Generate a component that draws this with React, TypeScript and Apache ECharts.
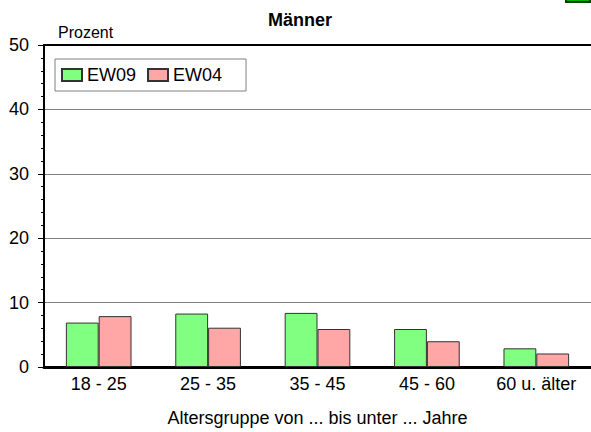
import React, { useEffect, useRef } from "react";
import * as echarts from "echarts";

const categories = ["18 - 25", "25 - 35", "35 - 45", "45 - 60", "60 u. älter"];
const ew09 = [6.9, 8.3, 8.4, 5.9, 2.9];
const ew04 = [7.9, 6.1, 5.9, 4.0, 2.1];
const seriesNames = ["EW09", "EW04"];

const FONT = "Liberation Sans, Arial, sans-serif";

export default function App() {
  const ref = useRef<HTMLDivElement>(null);
  useEffect(() => {
    if (!ref.current) return;
    const chart = echarts.init(ref.current, undefined, { renderer: "svg" });
    chart.setOption({
      animation: false,
      backgroundColor: "#ffffff",
      textStyle: { fontFamily: FONT },
      title: {
        text: "Männer",
        left: 295,
        textAlign: "center",
        top: 6,
        textStyle: { fontSize: 18, fontWeight: "bold", color: "#000", fontFamily: FONT },
      },
      legend: {
        left: 55,
        top: 59,
        orient: "horizontal",
        icon: "rect",
        itemWidth: 20,
        itemHeight: 12,
        itemGap: 11,
        padding: [7, 24, 7, 6],
        borderColor: "#808080",
        borderWidth: 1,
        textStyle: { fontSize: 18, color: "#000", fontFamily: FONT, lineHeight: 14, padding: [0, 0, 0, 0] },
        data: seriesNames,
      },
      grid: { left: 44, right: 0, top: 45, bottom: 64, containLabel: false },
      xAxis: [
        {
          type: "category",
          data: categories,
          position: "bottom",
          axisLine: { show: true, lineStyle: { color: "#000", width: 3 } },
          axisTick: { show: false },
          axisLabel: { color: "#000", fontSize: 18, margin: 8, fontFamily: FONT },
          name: "Altersgruppe von ... bis unter ... Jahre",
          nameLocation: "middle",
          nameGap: 42,
          nameTextStyle: { color: "#000", fontSize: 18, fontFamily: FONT },
        },
        {
          type: "category",
          data: categories,
          position: "top",
          axisLine: { show: true, lineStyle: { color: "#000", width: 2 } },
          axisTick: { show: false },
          axisLabel: { show: false },
        },
      ],
      yAxis: {
        type: "value",
        min: 0,
        max: 50,
        interval: 10,
        name: "Prozent",
        nameLocation: "end",
        nameGap: 5,
        nameTextStyle: { color: "#000", fontSize: 16, align: "left", padding: [0, 0, 0, 14], fontFamily: FONT },
        axisLine: { show: true, lineStyle: { color: "#000", width: 2 } },
        axisTick: { show: true, inside: false, length: 6, lineStyle: { color: "#000", width: 1 } },
        minorTick: { show: true, splitNumber: 5, length: 3, lineStyle: { color: "#000", width: 1 } },
        axisLabel: { color: "#000", fontSize: 18, margin: 15, fontFamily: FONT },
        splitLine: { show: true, lineStyle: { color: "#808080", width: 1 } },
      },
      series: [
        {
          name: seriesNames[0],
          type: "bar",
          data: ew09,
          barGap: "0%",
          barCategoryGap: "40%",
          itemStyle: { color: "#80ff80", borderColor: "#333333", borderWidth: 1 },
        },
        {
          name: seriesNames[1],
          type: "bar",
          data: ew04,
          barGap: "0%",
          barCategoryGap: "40%",
          itemStyle: { color: "#ffa6a6", borderColor: "#333333", borderWidth: 1 },
        },
      ],
      graphic: [
        {
          type: "rect",
          shape: { x: 566, y: -9, width: 24, height: 11 },
          style: { fill: "#00b000", stroke: "#004000", lineWidth: 2 },
        },
      ],
    });
    return () => chart.dispose();
  }, []);
  return <div ref={ref} style={{ width: 591, height: 432, position: "absolute", left: 0, top: 0 }} />;
}
